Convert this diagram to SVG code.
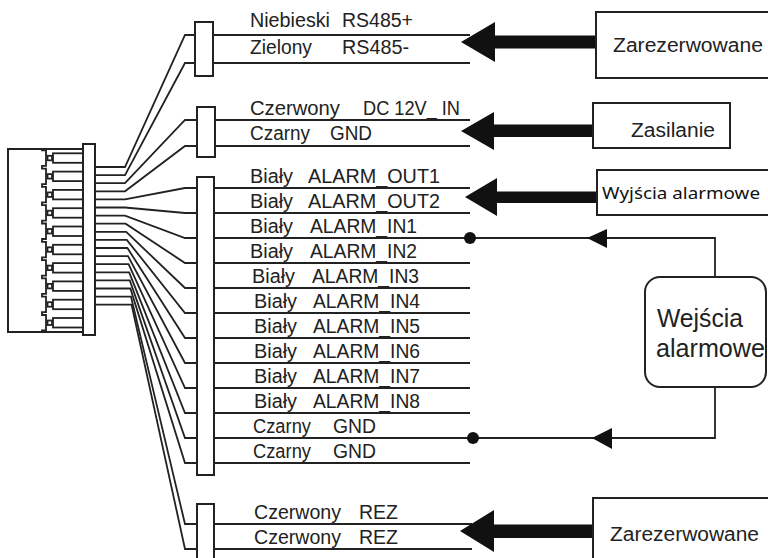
<svg xmlns="http://www.w3.org/2000/svg" width="768" height="558" viewBox="0 0 768 558">
<style>
.ln{fill:none;stroke:#222;stroke-width:1.8}
.bx{fill:#fff;stroke:#222;stroke-width:2}
.t{font-family:"Liberation Sans",Arial,sans-serif;font-size:19.5px;fill:#222}
.tn{font-family:"Noto Sans","Open Sans",sans-serif;fill:#111}
.ar{fill:#111}
</style>
<rect width="768" height="558" fill="#fff"/>
<g id="connector">
<rect class="bx" x="8" y="149" width="75" height="183"/>
<path class="ln" d="M42,149 V150.3 H46 V165.8 H42 V168.6 H46 V184.1 H42 V186.9 H46 V202.4 H42 V205.2 H46 V220.7 H42 V223.5 H46 V239 H42 V241.8 H46 V257.3 H42 V260.1 H46 V275.6 H42 V278.4 H46 V293.9 H42 V296.7 H46 V312.2 H42 V315 H46 V330.5 H42 V332"/>
<g class="ln">
<rect x="53" y="153.3" width="30" height="9.5"/><rect x="47.5" y="155.8" width="4.5" height="4.5"/>
<rect x="53" y="171.6" width="30" height="9.5"/><rect x="47.5" y="174.1" width="4.5" height="4.5"/>
<rect x="53" y="189.9" width="30" height="9.5"/><rect x="47.5" y="192.4" width="4.5" height="4.5"/>
<rect x="53" y="208.2" width="30" height="9.5"/><rect x="47.5" y="210.7" width="4.5" height="4.5"/>
<rect x="53" y="226.5" width="30" height="9.5"/><rect x="47.5" y="229" width="4.5" height="4.5"/>
<rect x="53" y="244.8" width="30" height="9.5"/><rect x="47.5" y="247.3" width="4.5" height="4.5"/>
<rect x="53" y="263.1" width="30" height="9.5"/><rect x="47.5" y="265.6" width="4.5" height="4.5"/>
<rect x="53" y="281.4" width="30" height="9.5"/><rect x="47.5" y="283.9" width="4.5" height="4.5"/>
<rect x="53" y="299.7" width="30" height="9.5"/><rect x="47.5" y="302.2" width="4.5" height="4.5"/>
<rect x="53" y="318" width="30" height="9.5"/><rect x="47.5" y="320.5" width="4.5" height="4.5"/>
</g>
<rect class="bx" x="83" y="144" width="12" height="191"/>
</g>
<g id="connectors">
<path class="ln" d="M95,167 H125 L185,35 H195"/>
<path class="ln" d="M95,175.1 H125 L185,63 H195"/>
<path class="ln" d="M95,183.2 H125 L185,120 H197"/>
<path class="ln" d="M95,191.3 H125 L185,146 H197"/>
<path class="ln" d="M95,199.4 H125 L185,188 H197"/>
<path class="ln" d="M95,207.5 H125 L185,213 H197"/>
<path class="ln" d="M95,215.6 H125 L185,238 H197"/>
<path class="ln" d="M95,223.7 H125.6 L185,263 H197"/>
<path class="ln" d="M95,231.8 H126.2 L185,288 H197"/>
<path class="ln" d="M95,239.9 H126.8 L185,313 H197"/>
<path class="ln" d="M95,248 H127.4 L185,338 H197"/>
<path class="ln" d="M95,256.1 H128 L185,363 H197"/>
<path class="ln" d="M95,264.2 H128.6 L185,388 H197"/>
<path class="ln" d="M95,272.3 H129.2 L185,413 H197"/>
<path class="ln" d="M95,280.4 H129.8 L185,438 H197"/>
<path class="ln" d="M95,288.5 H130.4 L185,463 H197"/>
<path class="ln" d="M95,296.6 H131 L185,524 H197"/>
<path class="ln" d="M95,304.7 H131.6 L185,549 H197"/>
<path class="ln" d="M213,35 H470 M213,63 H470"/>
<path class="ln" d="M215,120 H470 M215,146 H470"/>
<path class="ln" d="M214,188 H470 M214,213 H470 M214,238 H470 M214,263 H470 M214,288 H470 M214,313 H470 M214,338 H470 M214,363 H470 M214,388 H470 M214,413 H470 M214,438 H470 M214,463 H470"/>
<path class="ln" d="M214,524 H472 M214,549 H472"/>
<polygon class="ar" points="461,42 495,22 495,35.5 597,35.5 597,48.5 495,48.5 495,62"/>
<polygon class="ar" points="461,131 494,112 494,124.5 594,124.5 594,137 494,137 494,150"/>
<polygon class="ar" points="465,197 497,178 497,191.5 598,191.5 598,203 497,203 497,216"/>
<polygon class="ar" points="460,531 494,510 494,524.5 594,524.5 594,538 494,538 494,552"/>
<path class="ln" d="M470,238 H715 V277"/>
<path class="ln" d="M473,438 H715 V387"/>
<circle class="ar" cx="470" cy="238" r="6"/>
<circle class="ar" cx="473" cy="438" r="6"/>
<polygon class="ar" points="587,238 607,229 607,248"/>
<polygon class="ar" points="592,438 612,428 612,449"/>
</g>
<g id="bar1"><rect class="bx" x="195" y="22" width="18" height="54"/></g>
<g id="bar2"><rect class="bx" x="197" y="107" width="18" height="50"/></g>
<g id="bar3"><rect class="bx" x="197" y="177" width="17" height="298"/></g>
<g id="bar4"><rect class="bx" x="197" y="504" width="17" height="70"/></g>
<g id="labels">
<text class="t" x="250" y="27" textLength="80" lengthAdjust="spacingAndGlyphs">Niebieski</text>
<text class="t" x="342" y="27" textLength="71" lengthAdjust="spacingAndGlyphs">RS485+</text>
<text class="t" x="250" y="54" textLength="62" lengthAdjust="spacingAndGlyphs">Zielony</text>
<text class="t" x="342" y="54" textLength="67" lengthAdjust="spacingAndGlyphs">RS485-</text>
<text class="t" x="250" y="115" textLength="90" lengthAdjust="spacingAndGlyphs">Czerwony</text>
<text class="t" x="363" y="115" textLength="97" lengthAdjust="spacingAndGlyphs">DC 12V_ IN</text>
<text class="t" x="250" y="140" textLength="60" lengthAdjust="spacingAndGlyphs">Czarny</text>
<text class="t" x="330" y="140" textLength="42" lengthAdjust="spacingAndGlyphs">GND</text>
<text class="t" x="250" y="182.5" textLength="43" lengthAdjust="spacingAndGlyphs">Biały</text>
<text class="t" x="308" y="182.5" textLength="132" lengthAdjust="spacingAndGlyphs">ALARM_OUT1</text>
<text class="t" x="250" y="207.5" textLength="43" lengthAdjust="spacingAndGlyphs">Biały</text>
<text class="t" x="308" y="207.5" textLength="132" lengthAdjust="spacingAndGlyphs">ALARM_OUT2</text>
<text class="t" x="250" y="232.5" textLength="43" lengthAdjust="spacingAndGlyphs">Biały</text>
<text class="t" x="310" y="232.5" textLength="107" lengthAdjust="spacingAndGlyphs">ALARM_IN1</text>
<text class="t" x="250" y="257.5" textLength="43" lengthAdjust="spacingAndGlyphs">Biały</text>
<text class="t" x="310" y="257.5" textLength="107" lengthAdjust="spacingAndGlyphs">ALARM_IN2</text>
<text class="t" x="252" y="282.5" textLength="43" lengthAdjust="spacingAndGlyphs">Biały</text>
<text class="t" x="312" y="282.5" textLength="107" lengthAdjust="spacingAndGlyphs">ALARM_IN3</text>
<text class="t" x="254" y="307.5" textLength="43" lengthAdjust="spacingAndGlyphs">Biały</text>
<text class="t" x="313" y="307.5" textLength="107" lengthAdjust="spacingAndGlyphs">ALARM_IN4</text>
<text class="t" x="254" y="332.5" textLength="43" lengthAdjust="spacingAndGlyphs">Biały</text>
<text class="t" x="313" y="332.5" textLength="107" lengthAdjust="spacingAndGlyphs">ALARM_IN5</text>
<text class="t" x="254" y="357.5" textLength="43" lengthAdjust="spacingAndGlyphs">Biały</text>
<text class="t" x="313" y="357.5" textLength="107" lengthAdjust="spacingAndGlyphs">ALARM_IN6</text>
<text class="t" x="254" y="382.5" textLength="43" lengthAdjust="spacingAndGlyphs">Biały</text>
<text class="t" x="313" y="382.5" textLength="107" lengthAdjust="spacingAndGlyphs">ALARM_IN7</text>
<text class="t" x="254" y="407.5" textLength="43" lengthAdjust="spacingAndGlyphs">Biały</text>
<text class="t" x="313" y="407.5" textLength="107" lengthAdjust="spacingAndGlyphs">ALARM_IN8</text>
<text class="t" x="253" y="432.5" textLength="58" lengthAdjust="spacingAndGlyphs">Czarny</text>
<text class="t" x="333" y="432.5" textLength="43" lengthAdjust="spacingAndGlyphs">GND</text>
<text class="t" x="253" y="457.5" textLength="58" lengthAdjust="spacingAndGlyphs">Czarny</text>
<text class="t" x="333" y="457.5" textLength="43" lengthAdjust="spacingAndGlyphs">GND</text>
<text class="t" x="254" y="518.5" textLength="87" lengthAdjust="spacingAndGlyphs">Czerwony</text>
<text class="t" x="359" y="518.5" textLength="39" lengthAdjust="spacingAndGlyphs">REZ</text>
<text class="t" x="254" y="543.5" textLength="87" lengthAdjust="spacingAndGlyphs">Czerwony</text>
<text class="t" x="359" y="543.5" textLength="39" lengthAdjust="spacingAndGlyphs">REZ</text>
</g>
<g id="box-zarezerwowane-1">
<rect class="bx" x="596" y="12" width="180" height="66"/>
<text class="t" x="613" y="52" textLength="150" lengthAdjust="spacingAndGlyphs">Zarezerwowane</text>
</g>
<g id="box-zasilanie">
<rect class="bx" x="593" y="103" width="137" height="45"/>
<text class="t" x="631" y="137" textLength="84" lengthAdjust="spacingAndGlyphs">Zasilanie</text>
</g>
<g id="box-wyjscia">
<rect class="bx" x="597" y="170" width="180" height="45"/>
<text class="tn" x="602" y="199" font-size="17" textLength="158" lengthAdjust="spacingAndGlyphs">Wyjścia alarmowe</text>
</g>
<g id="box-wejscia">
<rect class="bx" x="645" y="277" width="121" height="110" rx="15"/>
<text class="t" x="657" y="327" style="font-size:25px" textLength="86" lengthAdjust="spacingAndGlyphs">Wejścia</text>
<text class="t" x="656" y="357" style="font-size:25px" textLength="109" lengthAdjust="spacingAndGlyphs">alarmowe</text>
</g>
<g id="box-zarezerwowane-2">
<rect class="bx" x="593" y="498" width="180" height="80"/>
<text class="t" x="610" y="541" textLength="149" lengthAdjust="spacingAndGlyphs">Zarezerwowane</text>
</g>
</svg>
